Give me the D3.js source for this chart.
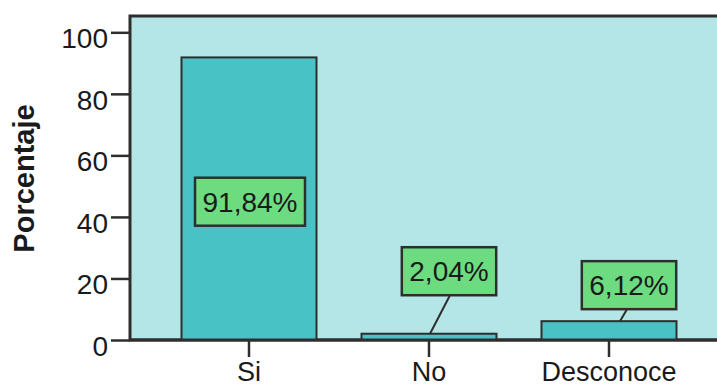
<!DOCTYPE html>
<html>
<head>
<meta charset="utf-8">
<script src="https://cdn.jsdelivr.net/npm/d3@7"></script>
<style>
  html, body { margin: 0; padding: 0; background: #ffffff; }
  svg { display: block; font-family: "Liberation Sans", Arial, sans-serif; }
</style>
</head>
<body>
<svg id="chart" width="717" height="387"></svg>
<script>
// Survey answers and their share of respondents (%)
const categories = ["Si", "No", "Desconoce"];
const percentages = [91.84, 2.04, 6.12];
const yTicks = [0, 20, 40, 60, 80, 100];
const yTitle = "Porcentaje";

// Placement of the value callouts (box centre offset from the bar, leader ends)
const calloutLayout = [
  { inside: true, dx: 1, dy: 3 },
  { inside: false, dx: 20, dy: -62.5, lineFrom: 1, lineTo: 1 },
  { inside: false, dx: 20, dy: -36, lineFrom: -2, lineTo: 11 }
];

const svg = d3.select("#chart");
const W = 717, H = 387;
const plot = { left: 130, top: 16, right: 720, bottom: 340 };
const yMax = 105.3;

const colors = {
  panel: "#b4e6e7",
  bar: "#48c2c5",
  callout: "#6ddc81",
  ink: "#2e2e2e"
};

const x = d3.scaleBand()
  .domain(categories)
  .range([159, 699])
  .paddingInner(0.25)
  .paddingOuter(0.125);

const y = d3.scaleLinear()
  .domain([0, yMax])
  .range([plot.bottom, plot.top]);

// Plot panel
svg.append("rect")
  .attr("x", plot.left)
  .attr("y", plot.top)
  .attr("width", plot.right - plot.left)
  .attr("height", plot.bottom - plot.top)
  .attr("fill", colors.panel)
  .attr("stroke", colors.ink)
  .attr("stroke-width", 3);

// Bars
svg.append("g").selectAll("rect")
  .data(categories)
  .join("rect")
  .attr("x", d => x(d))
  .attr("y", (d, i) => y(percentages[i]))
  .attr("width", x.bandwidth())
  .attr("height", (d, i) => y(0) - y(percentages[i]))
  .attr("fill", colors.bar)
  .attr("stroke", colors.ink)
  .attr("stroke-width", 2);

// Y axis
const yAxis = svg.append("g")
  .attr("transform", `translate(${plot.left},0)`)
  .call(d3.axisLeft(y).tickValues(yTicks).tickSize(19).tickPadding(3).tickSizeOuter(0));
yAxis.select(".domain").remove();
yAxis.selectAll(".tick line").attr("stroke", colors.ink).attr("stroke-width", 2.5);
yAxis.selectAll(".tick text")
  .attr("fill", "#1a1a1a")
  .attr("font-size", 28)
  .attr("font-family", "'Liberation Sans', Arial, sans-serif")
  .attr("dy", "0.55em");

// X axis
const xAxis = svg.append("g")
  .attr("transform", `translate(0,${plot.bottom})`)
  .call(d3.axisBottom(x).tickSize(17).tickPadding(8).tickSizeOuter(0));
xAxis.select(".domain").remove();
xAxis.selectAll(".tick line").attr("stroke", colors.ink).attr("stroke-width", 2.5);
xAxis.selectAll(".tick text")
  .attr("fill", "#1a1a1a")
  .attr("font-size", 27)
  .attr("font-family", "'Liberation Sans', Arial, sans-serif")
  .attr("y", 41)
  .attr("dy", 0);

// Bottom baseline across the panel
svg.append("line")
  .attr("x1", plot.left).attr("x2", W)
  .attr("y1", plot.bottom).attr("y2", plot.bottom)
  .attr("stroke", colors.ink).attr("stroke-width", 3);

// Y title
svg.append("text")
  .attr("transform", "translate(34,178.5) rotate(-90)")
  .attr("text-anchor", "middle")
  .attr("font-size", 29)
  .attr("font-weight", "bold")
  .attr("fill", "#1a1a1a")
  .text(yTitle);

// Value callouts
const fmt = v => d3.format(".2f")(v).replace(".", ",") + "%";
const boxH = 48, padX = 7.5;
const callouts = svg.append("g");
categories.forEach((c, i) => {
  const v = percentages[i];
  const L = calloutLayout[i];
  const cx = x(c) + x.bandwidth() / 2;
  const cy = L.inside ? y(v / 2) + L.dy : y(v) + L.dy;
  const bx = cx + L.dx;
  const g = callouts.append("g");
  const t = g.append("text")
    .attr("x", bx)
    .attr("y", cy + 10)
    .attr("text-anchor", "middle")
    .attr("font-size", 28)
    .attr("fill", "#1a1a1a")
    .text(fmt(v));
  const tw = t.node().getComputedTextLength();
  const bw = tw + padX * 2;
  g.insert("rect", "text")
    .attr("x", bx - bw / 2)
    .attr("y", cy - boxH / 2)
    .attr("width", bw)
    .attr("height", boxH)
    .attr("fill", colors.callout)
    .attr("stroke", colors.ink)
    .attr("stroke-width", 2.5);
  if (!L.inside) {
    g.insert("line", "rect")
      .attr("x1", bx + L.lineFrom)
      .attr("y1", cy + boxH / 2)
      .attr("x2", cx + L.lineTo)
      .attr("y2", y(v))
      .attr("stroke", colors.ink)
      .attr("stroke-width", 2);
  }
});
</script>
</body>
</html>
